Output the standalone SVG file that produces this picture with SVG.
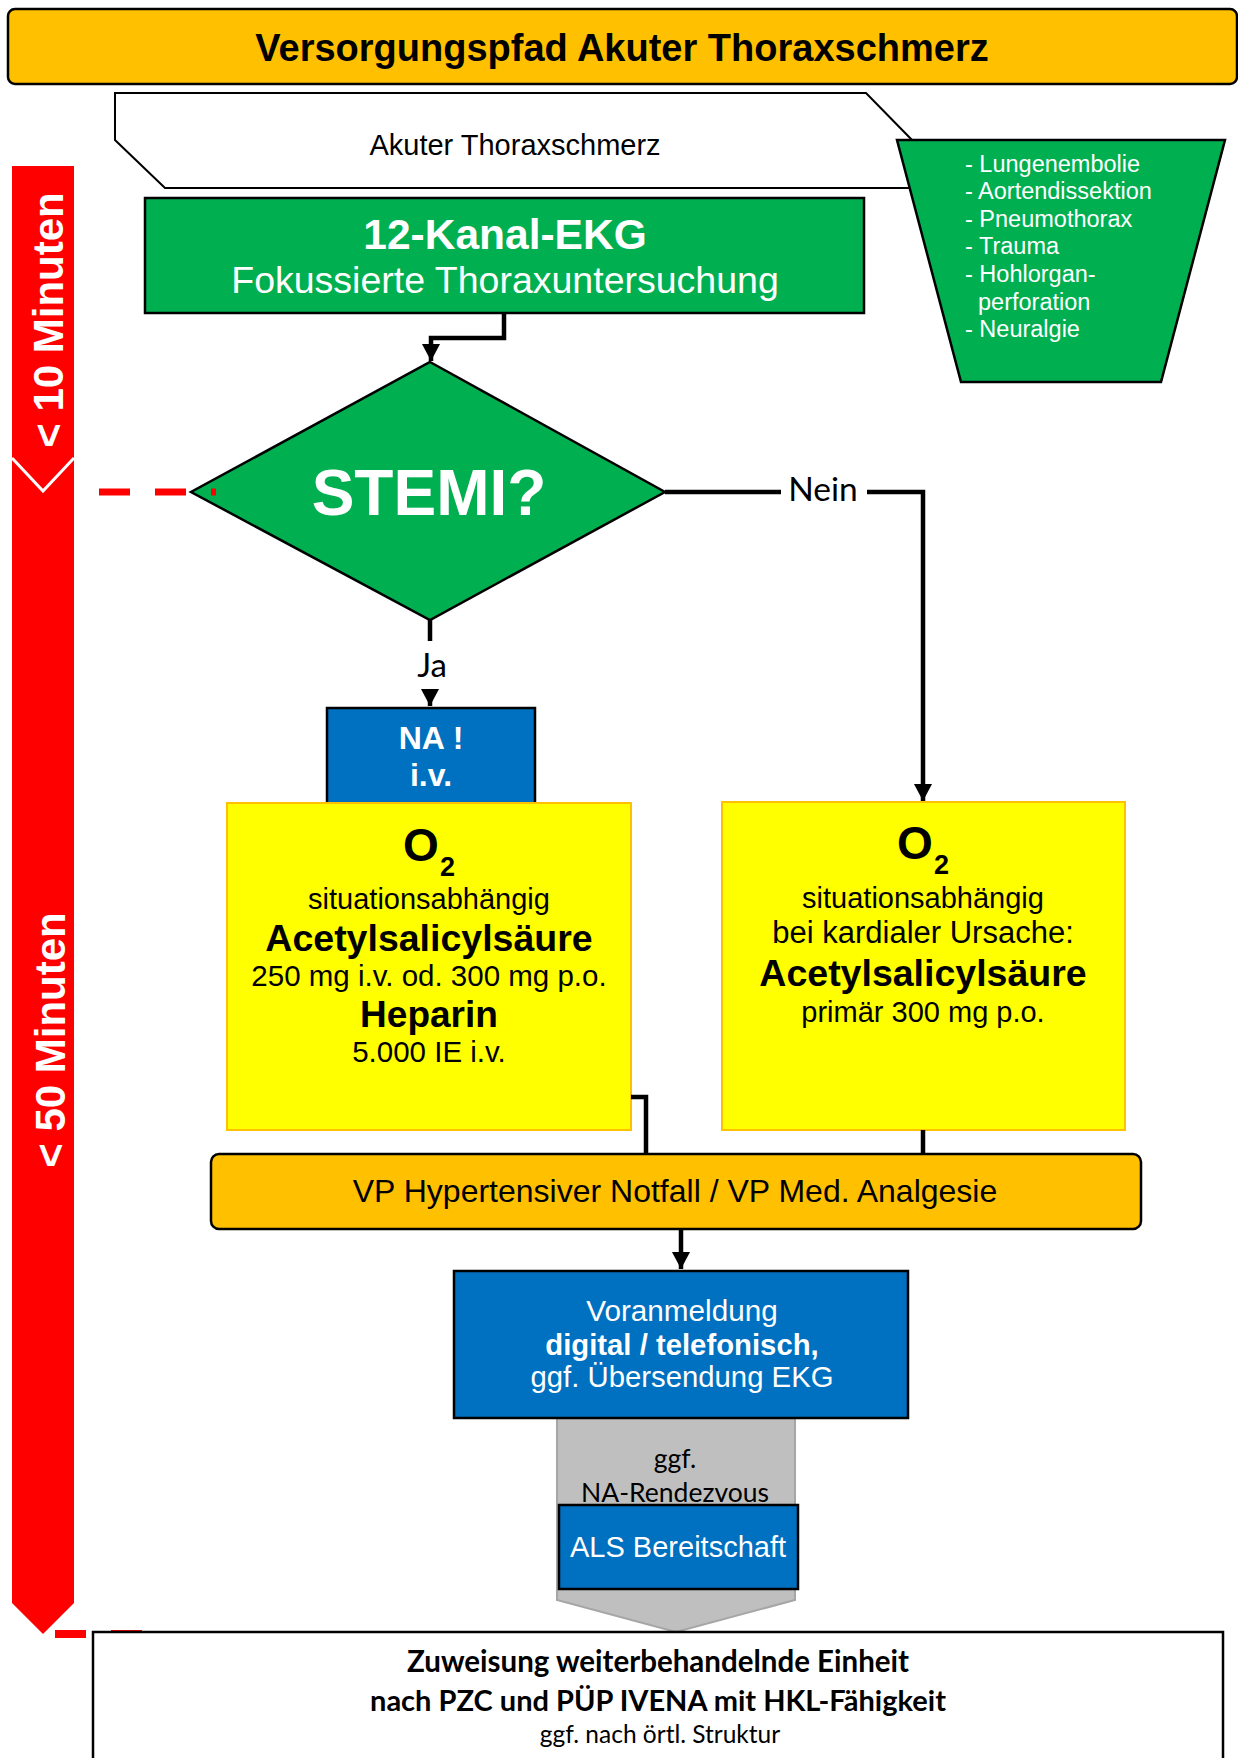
<svg xmlns="http://www.w3.org/2000/svg" width="1238" height="1758" viewBox="0 0 1238 1758">
<style>
.a{font-family:"Liberation Sans",Arial,sans-serif}
.c{font-family:Lato,"Open Sans",sans-serif}
.b{font-weight:bold}
.m{text-anchor:middle}
.w{fill:#fff}
.k{fill:#000}
.con{fill:none;stroke:#000;stroke-width:4.5}
</style>
<defs>
<marker id="ah" markerUnits="userSpaceOnUse" markerWidth="18" markerHeight="18" viewBox="0 0 18 18" refX="17" refY="9" orient="auto">
<path d="M0,0 L17,9 L0,18 Z" fill="#000"/>
</marker>
</defs>

<g id="title">
<rect x="8" y="9" width="1229" height="75" rx="7" fill="#FFC000" stroke="#000" stroke-width="2.5"/>
<text class="a b m k" x="622" y="61" font-size="38">Versorgungspfad Akuter  Thoraxschmerz</text>
</g>

<g id="timebar">
<polygon points="12,166 74,166 74,1603 43,1634 12,1603" fill="#FF0000"/>
<polyline points="12,458 43,491 74,458" fill="none" stroke="#fff" stroke-width="3"/>
<text class="a b m w" font-size="42" transform="translate(63,320) rotate(-90)">&lt; 10 Minuten</text>
<text class="a b m w" font-size="42" transform="translate(65,1040) rotate(-90)">&lt; 50 Minuten</text>
<line x1="55" y1="1634" x2="145" y2="1634" stroke="#FF0000" stroke-width="8" stroke-dasharray="31,25"/>
</g>

<g id="akuter">
<polygon points="115,93 866,93 912,140 912,188 165,188 115,140" fill="#fff" stroke="#000" stroke-width="2"/>
<text class="a m k" x="515" y="155" font-size="29">Akuter Thoraxschmerz</text>
</g>

<g id="differential">
<polygon points="897,140 1225,140 1161,382 961,382" fill="#00B050" stroke="#000" stroke-width="2.5"/>
<g class="a w" font-size="23.5">
<text x="965" y="172">- Lungenembolie</text>
<text x="965" y="199">- Aortendissektion</text>
<text x="965" y="227">- Pneumothorax</text>
<text x="965" y="254">- Trauma</text>
<text x="965" y="282">- Hohlorgan-</text>
<text x="978" y="310">perforation</text>
<text x="965" y="337">- Neuralgie</text>
</g>
</g>

<g id="ekg">
<rect x="145" y="198" width="719" height="115" fill="#00B050" stroke="#000" stroke-width="2.5"/>
<text class="a b m w" x="505" y="249" font-size="42.5">12-Kanal-EKG</text>
<text class="a m w" x="505" y="293" font-size="37.5">Fokussierte Thoraxuntersuchung</text>
</g>

<g id="stemi">
<polygon points="430,362 665,492 430,620 191,492" fill="#00B050" stroke="#000" stroke-width="2.5"/>
<text class="a b m w" x="429" y="515" font-size="64">STEMI?</text>
</g>

<g id="na">
<rect x="327" y="708" width="208" height="100" fill="#0070C0" stroke="#000" stroke-width="2.5"/>
<text class="a b m w" x="431" y="749" font-size="32">NA !</text>
<text class="a b m w" x="431" y="786" font-size="32">i.v.</text>
</g>

<g id="stemi-yes-meds">
<rect x="227" y="803" width="404" height="327" fill="#FFFF00" stroke="#FFC000" stroke-width="2"/>
<text class="a b m k" x="421" y="861" font-size="46">O</text>
<text class="a b k" x="440" y="876" font-size="27">2</text>
<text class="a m k" x="429" y="909" font-size="29">situationsabhängig</text>
<text class="a b m k" x="429" y="951" font-size="37.5">Acetylsalicylsäure</text>
<text class="a m k" x="429" y="986" font-size="29.5">250 mg i.v. od. 300 mg p.o.</text>
<text class="a b m k" x="429" y="1027" font-size="37">Heparin</text>
<text class="a m k" x="429" y="1062" font-size="29.5">5.000 IE i.v.</text>
</g>

<g id="stemi-no-meds">
<rect x="722" y="802" width="403" height="328" fill="#FFFF00" stroke="#FFC000" stroke-width="2"/>
<text class="a b m k" x="915" y="859" font-size="46">O</text>
<text class="a b k" x="934" y="874" font-size="27">2</text>
<text class="a m k" x="923" y="908" font-size="29">situationsabhängig</text>
<text class="a m k" x="923" y="943" font-size="31">bei kardialer Ursache:</text>
<text class="a b m k" x="923" y="986" font-size="37.5">Acetylsalicylsäure</text>
<text class="a m k" x="923" y="1022" font-size="29">primär 300 mg p.o.</text>
</g>

<g id="vp">
<rect x="211" y="1154" width="930" height="75" rx="8" fill="#FFC000" stroke="#000" stroke-width="2.5"/>
<text class="a m k" x="675" y="1202" font-size="32">VP Hypertensiver Notfall / VP Med. Analgesie</text>
</g>

<g id="rendezvous">
<polygon points="557,1410 795,1410 795,1600 676,1632 557,1600" fill="#BFBFBF" stroke="#A6A6A6" stroke-width="2"/>
<text class="c m k" x="675" y="1468" font-size="26.5">ggf.</text>
<text class="c m k" x="675" y="1502" font-size="26.5">NA-Rendezvous</text>
</g>

<g id="voranmeldung">
<rect x="454" y="1271" width="454" height="147" fill="#0070C0" stroke="#000" stroke-width="2.5"/>
<text class="a m w" x="682" y="1321" font-size="29.7">Voranmeldung</text>
<text class="a b m w" x="682" y="1355" font-size="29.3">digital / telefonisch,</text>
<text class="a m w" x="682" y="1387" font-size="29.3">ggf. Übersendung EKG</text>
</g>

<g id="als">
<rect x="559" y="1505" width="239" height="84" fill="#0070C0" stroke="#000" stroke-width="2.5"/>
<text class="a m w" x="678" y="1557" font-size="29">ALS Bereitschaft</text>
</g>

<g id="zuweisung">
<rect x="93" y="1632" width="1130" height="140" fill="#fff" stroke="#000" stroke-width="2.5"/>
<text class="c b m k" x="658" y="1672" font-size="29.5">Zuweisung weiterbehandelnde Einheit</text>
<text class="c b m k" x="658" y="1711" font-size="29">nach PZC und PÜP IVENA mit HKL-Fähigkeit</text>
<text class="c m k" x="660" y="1743" font-size="24.5">ggf. nach örtl. Struktur</text>
</g>

<g id="connectors">
<path class="con" d="M504,313 V338 H431 V361" marker-end="url(#ah)"/>
<path class="con" d="M665,492 H923 V801" marker-end="url(#ah)"/>
<rect x="781" y="468" width="86" height="42" fill="#fff"/>
<text class="c m k" x="823" y="501" font-size="33.5">Nein</text>
<path class="con" d="M430,620 V706" marker-end="url(#ah)"/>
<rect x="410" y="641" width="42" height="48" fill="#fff"/>
<text class="c m k" x="432" y="677" font-size="33">Ja</text>
<path class="con" d="M631,1097 H646 V1154"/>
<path class="con" d="M923,1130 V1154"/>
<path class="con" d="M681,1229 V1269" marker-end="url(#ah)"/>
<line x1="99" y1="492" x2="216" y2="492" stroke="#FF0000" stroke-width="7" stroke-dasharray="31,25"/>
</g>
</svg>
